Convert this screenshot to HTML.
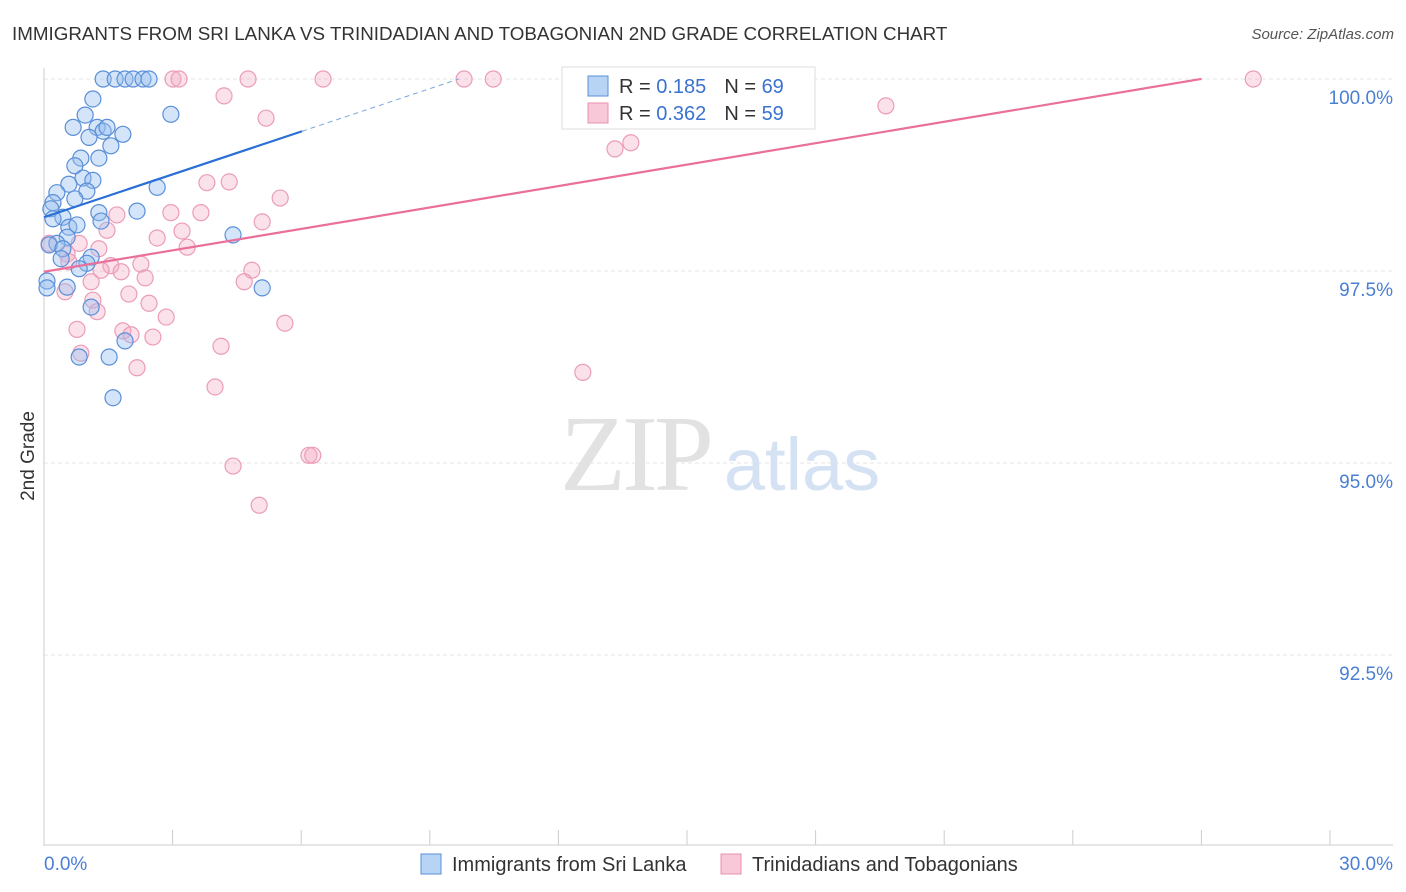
<!DOCTYPE html>
<html><head><meta charset="utf-8">
<style>
body{margin:0;background:#fff;font-family:"Liberation Sans",sans-serif;}
#wrap{position:relative;width:1406px;height:892px;overflow:hidden;}
</style></head>
<body>
<div id="wrap">
<svg id="chart" width="1406" height="892" xmlns="http://www.w3.org/2000/svg">
  <text x="12" y="40" font-size="18.8" fill="#333">IMMIGRANTS FROM SRI LANKA VS TRINIDADIAN AND TOBAGONIAN 2ND GRADE CORRELATION CHART</text>
  <text x="1394" y="39" font-size="15" fill="#555" text-anchor="end" font-style="italic">Source: ZipAtlas.com</text>
  <g id="grid"></g>
  <g>
    <text x="635" y="490" font-size="108" fill="#e2e2e2" font-family="Liberation Serif,serif" text-anchor="middle" letter-spacing="-4">ZIP</text>
    <text x="802" y="490" font-size="74" fill="#d4e2f4" text-anchor="middle">atlas</text>
  </g>
  <line x1="44" y1="68" x2="44" y2="846" stroke="#ccc"/>
  <line x1="44" y1="845" x2="1393" y2="845" stroke="#ccc"/>
  <g id="xticks"></g>
  <g id="ylabels"></g>
  <text x="44" y="870" font-size="19" fill="#4a7fd4">0.0%</text>
  <text x="1393" y="870" font-size="19" fill="#4a7fd4" text-anchor="end">30.0%</text>
  <text transform="translate(34,456) rotate(-90)" font-size="19" fill="#333" text-anchor="middle">2nd Grade</text>
  <g id="pts"></g>
  <g id="fits"></g>
  <g>
    <rect x="562" y="67" width="253" height="62" fill="#fff" stroke="#ddd"/>
    <rect x="588" y="76" width="20" height="20" fill="#b8d4f5" stroke="#5a8fd8"/>
    <rect x="588" y="103" width="20" height="20" fill="#f8c8d8" stroke="#e890b0"/>
    <text x="619" y="93" font-size="20" fill="#333">R = <tspan fill="#3a72d0">0.185</tspan><tspan dx="18">N = </tspan><tspan fill="#3a72d0">69</tspan></text>
    <text x="619" y="120" font-size="20" fill="#333">R = <tspan fill="#3a72d0">0.362</tspan><tspan dx="18">N = </tspan><tspan fill="#3a72d0">59</tspan></text>
  </g>
  <g>
    <rect x="421" y="854" width="20" height="20" fill="#b8d4f5" stroke="#5a8fd8"/>
    <text x="452" y="871" font-size="20" fill="#333">Immigrants from Sri Lanka</text>
    <rect x="721" y="854" width="20" height="20" fill="#f8c8d8" stroke="#e890b0"/>
    <text x="752" y="871" font-size="20" fill="#333">Trinidadians and Tobagonians</text>
  </g>
</svg>
</div>
<script>
const blueX=[1.38,1.66,1.89,2.08,2.31,2.45,1.14,2.96,0.68,0.96,1.24,1.38,1.47,1.84,1.05,1.56,0.86,1.28,0.72,0.91,1.14,0.58,2.64,0.30,1.00,0.72,0.21,0.16,2.17,1.28,0.44,0.21,1.33,0.58,0.77,0.54,4.41,0.30,0.12,0.44,1.10,0.40,1.00,0.82,0.07,0.07,5.09,0.54,1.10,1.89,1.52,0.82,1.61];
const blueY=[100,100,100,100,100,100,99.74,99.54,99.37,99.53,99.37,99.32,99.37,99.28,99.24,99.13,98.97,98.97,98.87,98.71,98.68,98.63,98.59,98.52,98.54,98.44,98.39,98.31,98.28,98.26,98.20,98.18,98.15,98.07,98.10,97.94,97.97,97.86,97.84,97.79,97.68,97.66,97.60,97.53,97.37,97.28,97.28,97.29,97.03,96.59,96.38,96.38,95.85];
const pinkX=[3.01,3.15,4.76,6.51,9.80,10.48,28.21,4.20,19.64,5.18,13.69,13.32,3.80,4.32,5.51,1.70,2.96,3.66,5.09,1.47,2.64,3.22,3.34,0.12,0.82,1.28,0.54,0.58,1.56,2.26,1.80,1.33,4.85,4.67,1.10,2.36,0.49,1.98,1.14,2.45,1.24,2.85,5.62,0.77,1.84,2.03,2.54,4.13,0.86,2.17,12.57,3.99,6.18,6.27,4.41,5.02];
const pinkY=[100,100,100,100,100,100,100,99.78,99.65,99.49,99.17,99.09,98.65,98.66,98.45,98.23,98.26,98.26,98.14,98.03,97.93,98.02,97.81,97.86,97.86,97.79,97.72,97.62,97.57,97.59,97.49,97.51,97.51,97.36,97.36,97.41,97.23,97.20,97.12,97.08,96.97,96.90,96.82,96.74,96.72,96.67,96.64,96.52,96.43,96.24,96.18,95.99,95.10,95.10,94.96,94.45];
const yTicks=[100,97.5,95,92.5];
const yTickLabels=["100.0%","97.5%","95.0%","92.5%"];
const xTicks=[0,3,6,9,12,15,18,21,24,27,30];
const blueFit=[98.2,0.186];
const blueSolidEnd=6.02;
const pinkFit=[97.49,0.093];
const pinkSolidEnd=27;

const NS="http://www.w3.org/2000/svg";
const sx=v=>44+v/30*1286;
const sy=v=>79+(100-v)*76.8;
function mk(tag,attrs,parent){const e=document.createElementNS(NS,tag);for(const k in attrs)e.setAttribute(k,attrs[k]);parent.appendChild(e);return e;}
const grid=document.getElementById('grid'),yl=document.getElementById('ylabels'),xt=document.getElementById('xticks');
yTicks.forEach((t,i)=>{
  const l=mk('line',{x1:44,x2:1393,y1:sy(t),y2:sy(t),stroke:'#e4e4e4','stroke-dasharray':'4,3'},grid);
  
  
  const tx=mk('text',{x:1393,y:sy(t)+25,'font-size':19,fill:'#4a7fd4','text-anchor':'end'},yl);
  tx.textContent=yTickLabels[i];
  
  
});
xTicks.forEach(t=>{
  const l=mk('line',{x1:sx(t),x2:sx(t),y1:830,y2:845,stroke:'#ccc'},xt);
  
  
});
const pts=document.getElementById('pts');
pinkX.forEach((x,i)=>{
  const c=mk('circle',{cx:sx(x),cy:sy(pinkY[i]),r:8,fill:'rgba(244,170,196,0.35)',stroke:'#eb9cb8','stroke-width':1.2},pts);
  
  
});
blueX.forEach((x,i)=>{
  const c=mk('circle',{cx:sx(x),cy:sy(blueY[i]),r:8,fill:'rgba(150,190,240,0.4)',stroke:'#5a8fd8','stroke-width':1.2},pts);
  
  
});
const fits=document.getElementById('fits');
const bEnd=(100-blueFit[0])/blueFit[1];
let l=mk('line',{x1:sx(0),y1:sy(blueFit[0]),x2:sx(blueSolidEnd),y2:sy(blueFit[0]+blueFit[1]*blueSolidEnd),stroke:'#2a6fd6','stroke-width':2.2},fits);


l=mk('line',{x1:sx(blueSolidEnd),y1:sy(blueFit[0]+blueFit[1]*blueSolidEnd),x2:sx(bEnd),y2:sy(100),stroke:'#7aa6e0','stroke-width':1,'stroke-dasharray':'5,4'},fits);


l=mk('line',{x1:sx(0),y1:sy(pinkFit[0]),x2:sx(pinkSolidEnd),y2:sy(pinkFit[0]+pinkFit[1]*pinkSolidEnd),stroke:'#e8709a','stroke-width':2.2},fits);


</script>
</body></html>
